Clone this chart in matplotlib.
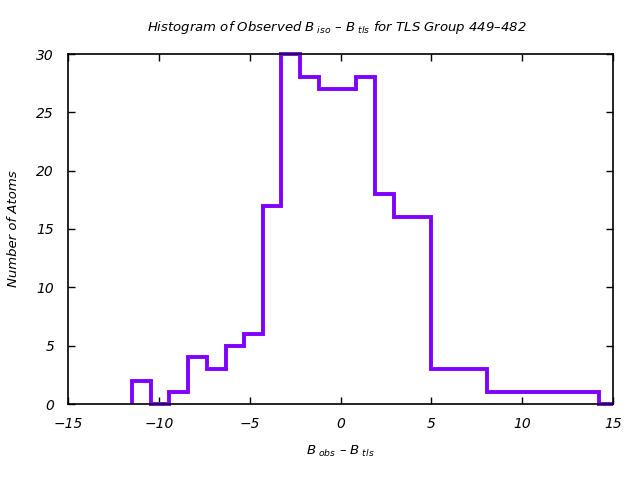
import matplotlib
matplotlib.use("Agg")
import matplotlib.pyplot as plt
from matplotlib.patches import Rectangle

plt.rcParams['font.family'] = ['DejaVu Sans']
plt.rcParams['mathtext.fontset'] = 'custom'
plt.rcParams['mathtext.it'] = 'DejaVu Sans:italic'
plt.rcParams['mathtext.rm'] = 'DejaVu Sans:italic'
plt.rcParams['mathtext.default'] = 'it'

bin_edges = [-11.48, -10.45, -9.42, -8.39, -7.36, -6.33, -5.31, -4.28, -3.25,
             -2.22, -1.19, -0.16, 0.87, 1.90, 2.93, 3.96, 4.98, 6.01, 7.04,
             8.07, 9.10, 10.13, 11.16, 12.19, 13.22, 14.25, 15.28]
counts = [2, 0, 1, 4, 3, 5, 6, 17, 30, 28, 27, 27, 28, 18, 16, 16, 3, 3, 3,
          1, 1, 1, 1, 1, 1, 0]
x_ticks = [-15, -10, -5, 0, 5, 10, 15]
y_ticks = [0, 5, 10, 15, 20, 25, 30]

fig = plt.figure(figsize=(6.4, 4.8), dpi=100)
ax = fig.add_axes([68/640, 76/480, (613-68)/640, (404-54)/480])

st = ax.stairs(counts, bin_edges, baseline=0, color='#8000ff', linewidth=2.8, zorder=2)
clip = Rectangle((0, -0.02), 1, 1.04, transform=ax.transAxes, facecolor='none', edgecolor='none')
ax.add_patch(clip)
st.set_clip_path(clip)

ax.set_xlim(-15, 15)
ax.set_ylim(0, 30)
ax.set_xticks(x_ticks)
ax.set_yticks(y_ticks)
ax.tick_params(direction='in', top=True, right=True, length=5, width=1, labelsize=10)
ax.tick_params(axis='x', pad=9)
ax.tick_params(axis='y', pad=10)
for lab in ax.get_xticklabels() + ax.get_yticklabels():
    lab.set_fontstyle('italic')
for s in ax.spines.values():
    s.set_linewidth(1.2)
    s.set_zorder(3)

fig.text(337/640, 1 - 27/480, r'Histogram of Observed $B_{\ iso}$ – $B_{\ tls}$ for TLS Group 449–482',
         ha='center', va='center', fontsize=9.5, style='italic')
fig.text(340/640, 1 - 451/480, r'$B_{\ obs}$ – $B_{\ tls}$', ha='center', va='center',
         fontsize=9.5, style='italic')
fig.text(14/640, 1 - 229/480, 'Number of Atoms', ha='center', va='center', rotation=90,
         fontsize=9.5, style='italic')

fig.savefig('out.png', dpi=100)
